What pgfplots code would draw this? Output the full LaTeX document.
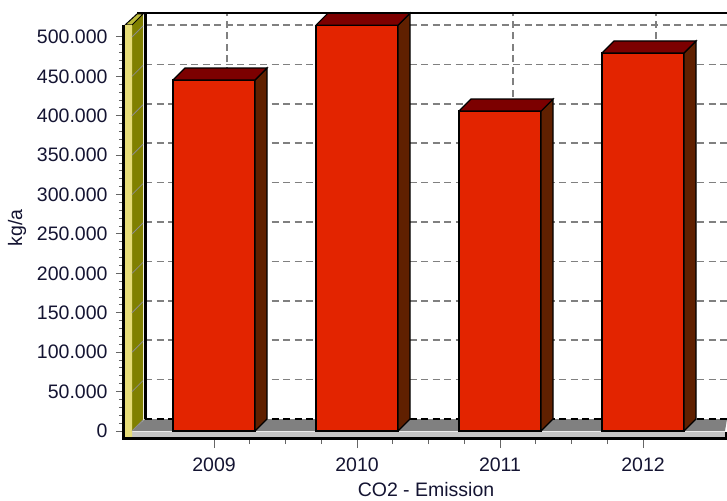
\documentclass[border=0pt]{standalone}
\usepackage{pgfplots}
\pgfplotsset{compat=1.18}
\usepackage{fontspec}
\setmainfont{Liberation Sans}
\definecolor{barfront}{HTML}{E32400}
\definecolor{bartop}{HTML}{7C0000}
\definecolor{barside}{HTML}{602000}
\definecolor{wallside}{HTML}{808000}
\definecolor{wallfront}{HTML}{E6DC78}
\definecolor{walltop}{HTML}{BDBB3C}
\definecolor{floortop}{HTML}{808080}
\definecolor{floorfront}{HTML}{C4C4C4}
\definecolor{labeltext}{HTML}{141432}
\begin{document}
\begin{tikzpicture}
\path[use as bounding box] (0,0) rectangle (727pt,500pt);
\begin{axis}[
	at={(122pt,61pt)},
	scale only axis,
	width=605pt,
	height=427pt,
	xmin=-0.6434, xmax=3.5874,
	ymin=-10152, ymax=531711,
	clip=false,
	axis line style={draw=none},
	xtick={0,1,2,3},
	xticklabels={2009,2010,2011,2012},
	minor x tick num=3,
	ytick={0,50000,100000,150000,200000,250000,300000,350000,400000,450000,500000},
	yticklabels={0,50.000,100.000,150.000,200.000,250.000,300.000,350.000,400.000,450.000,500.000},
	minor y tick num=4,
	scaled y ticks=false,
	xtick pos=bottom,
	ytick pos=left,
	tick align=outside,
	major tick length=6pt,
	minor tick length=3pt,
	tick style={color=black!60,line width=1pt},
	xtick style={/pgfplots/major tick length=9pt,/pgfplots/minor tick length=5pt},
	tick label style={font=\fontsize{19.5}{20}\selectfont,text=labeltext},
	yticklabel style={xshift=-5pt},
	xticklabel style={yshift=-9pt},
	xlabel={CO2 - Emission},
	ylabel={kg/a},
	every axis x label/.style={at={(axis description cs:0.5025,-0.1194)},anchor=center,font=\fontsize{19.5}{20}\selectfont,text=labeltext},
	every axis y label/.style={at={(axis description cs:-0.1736,0.4941)},anchor=center,rotate=90,font=\fontsize{19.5}{20}\selectfont,text=labeltext},
]
% floor
\addplot[fill=floortop,draw=none] coordinates {(-0.5734,0) (-0.4825,15228) (3.5874,15228) (3.5734,0) (-0.5734,0)};
\addplot[fill=floorfront,draw=none] coordinates {(-0.5734,-1000) (3.5734,-1000) (3.5734,-7600) (-0.5734,-7600) (-0.5734,-1000)};
% back grid
\pgfplotsinvokeforeach{65228,115228,165228,215228,265228,315228,365228,415228,465228,515228}{
	\addplot[color=floortop,line width=1.5pt,dash pattern=on 7pt off 4.5pt] coordinates {(-0.4825,#1) (3.5874,#1)};
}
\pgfplotsinvokeforeach{0.0909,1.0909,2.0909,3.0909}{
	\addplot[color=floortop,line width=1.5pt,dash pattern=on 7pt off 4.5pt] coordinates {(#1,15228) (#1,530442)};
}
\addplot[color=black,line width=1.5pt,dash pattern=on 7pt off 4.5pt] coordinates {(-0.4825,15228) (3.5874,15228)};
\addplot[color=black,line width=2pt] coordinates {(-0.5385,530442) (3.5874,530442)};
% left wall
\addplot[color=black,line width=3pt] coordinates {(-0.4825,15228) (-0.4825,530442)};
\addplot[fill=wallside,draw=none] coordinates {(-0.5734,515214) (-0.4965,529173) (-0.4965,13959) (-0.5734,0) (-0.5734,515214)};
\addplot[fill=walltop,draw=black,line width=1pt] coordinates {(-0.6224,515214) (-0.5734,515214) (-0.4965,529173) (-0.5385,529173) (-0.6224,515214)};
\addplot[fill=wallfront,draw=none] coordinates {(-0.6224,515214) (-0.5734,515214) (-0.5734,-7600) (-0.6224,-7600) (-0.6224,515214)};
\addplot[color=black!45,line width=0.8pt,unbounded coords=jump] coordinates {
	(-0.5734,0) (-0.4965,13959) (nan,nan)
	(-0.5734,50000) (-0.4965,63959) (nan,nan)
	(-0.5734,100000) (-0.4965,113959) (nan,nan)
	(-0.5734,150000) (-0.4965,163959) (nan,nan)
	(-0.5734,200000) (-0.4965,213959) (nan,nan)
	(-0.5734,250000) (-0.4965,263959) (nan,nan)
	(-0.5734,300000) (-0.4965,313959) (nan,nan)
	(-0.5734,350000) (-0.4965,363959) (nan,nan)
	(-0.5734,400000) (-0.4965,413959) (nan,nan)
	(-0.5734,450000) (-0.4965,463959) (nan,nan)
	(-0.5734,500000) (-0.4965,513959)
};
% frame
\addplot[color=black,line width=3pt] coordinates {(-0.6329,515214) (-0.6329,-9500) (3.5804,-9500) (3.5804,-1000)};
% bars, front, side, top: values 445400 515000 406000 479700
\addplot[ybar,bar width=82pt,fill=barfront,draw=black,line width=1.2pt] coordinates {(0,445400) (1,515000) (2,406000) (3,479700)};
\addplot[fill=barside,draw=black,line width=1.2pt] coordinates {(0.287,0) (0.371,15228) (0.371,460628) (0.287,445400) (0.287,0)};
\addplot[fill=bartop,draw=black,line width=1.2pt] coordinates {(-0.287,445400) (-0.203,460628) (0.371,460628) (0.287,445400) (-0.287,445400)};
\addplot[fill=barside,draw=black,line width=1.2pt] coordinates {(1.287,0) (1.371,15228) (1.371,530228) (1.287,515000) (1.287,0)};
\addplot[fill=bartop,draw=black,line width=1.2pt] coordinates {(0.713,515000) (0.797,530228) (1.371,530228) (1.287,515000) (0.713,515000)};
\addplot[fill=barside,draw=black,line width=1.2pt] coordinates {(2.287,0) (2.371,15228) (2.371,421228) (2.287,406000) (2.287,0)};
\addplot[fill=bartop,draw=black,line width=1.2pt] coordinates {(1.713,406000) (1.797,421228) (2.371,421228) (2.287,406000) (1.713,406000)};
\addplot[fill=barside,draw=black,line width=1.2pt] coordinates {(3.287,0) (3.371,15228) (3.371,494928) (3.287,479700) (3.287,0)};
\addplot[fill=bartop,draw=black,line width=1.2pt] coordinates {(2.713,479700) (2.797,494928) (3.371,494928) (3.287,479700) (2.713,479700)};
\end{axis}
\end{tikzpicture}
\end{document}
